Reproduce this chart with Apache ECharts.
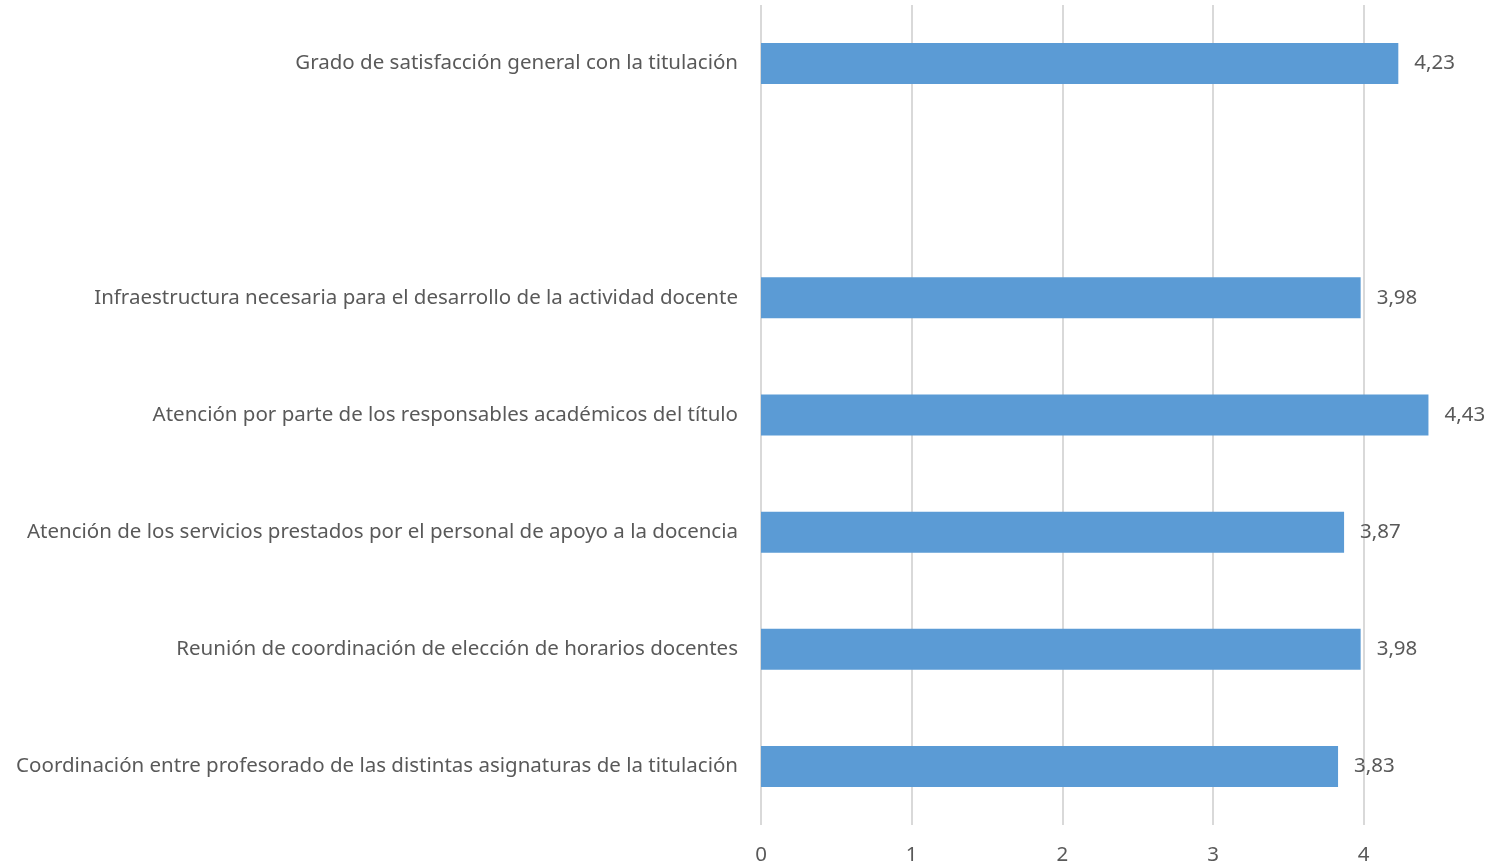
<!DOCTYPE html>
<html>
<head>
<meta charset="utf-8">
<script src="https://cdn.jsdelivr.net/npm/echarts@6/dist/echarts.min.js"></script>
<style>
  html, body { margin: 0; padding: 0; background: #fff; }
  #chart { width: 1498px; height: 866px; }
</style>
</head>
<body>
<div id="chart"></div>
<script>
// categorias de abajo hacia arriba (el hueco vacio es a proposito)
const categories = [
  'Coordinación entre profesorado de las distintas asignaturas de la titulación',
  'Reunión de coordinación de elección de horarios docentes',
  'Atención de los servicios prestados por el personal de apoyo a la docencia',
  'Atención por parte de los responsables académicos del título',
  'Infraestructura necesaria para el desarrollo de la actividad docente',
  '',
  'Grado de satisfacción general con la titulación'
];
const values = [3.83, 3.98, 3.87, 4.43, 3.98, null, 4.23];

const font = '"Noto Sans", "Open Sans", sans-serif';
const textColor = '#595959';

let myChart = echarts.init(document.getElementById('chart'));

myChart.setOption({
  animation: false,
  grid: {
    left: 761,
    right: 59,
    top: 5,
    bottom: 41,
    containLabel: false
  },
  xAxis: {
    type: 'value',
    min: 0,
    max: 4.5,
    interval: 1,
    axisLine: { show: false },
    axisTick: { show: false },
    axisLabel: {
      color: textColor,
      fontFamily: font,
      fontSize: 20.5,
      margin: 20,
      showMaxLabel: false
    },
    splitLine: {
      show: true,
      showMaxLine: false,
      lineStyle: { color: '#d9d9d9', width: 2 }
    }
  },
  yAxis: {
    type: 'category',
    data: categories,
    axisLine: { show: false },
    axisTick: { show: false },
    axisLabel: {
      color: textColor,
      fontFamily: font,
      fontSize: 20.5,
      margin: 23
    }
  },
  series: [
    {
      type: 'bar',
      data: values,
      barWidth: 41,
      itemStyle: { color: '#5b9bd5' },
      label: {
        show: true,
        position: 'right',
        distance: 16,
        color: textColor,
        fontFamily: font,
        fontSize: 20.5,
        formatter: function (p) {
          return p.value == null ? '' : p.value.toFixed(2).replace('.', ',');
        }
      }
    }
  ]
});

window.onresize = function () {
  myChart.resize();
};
</script>
</body>
</html>
